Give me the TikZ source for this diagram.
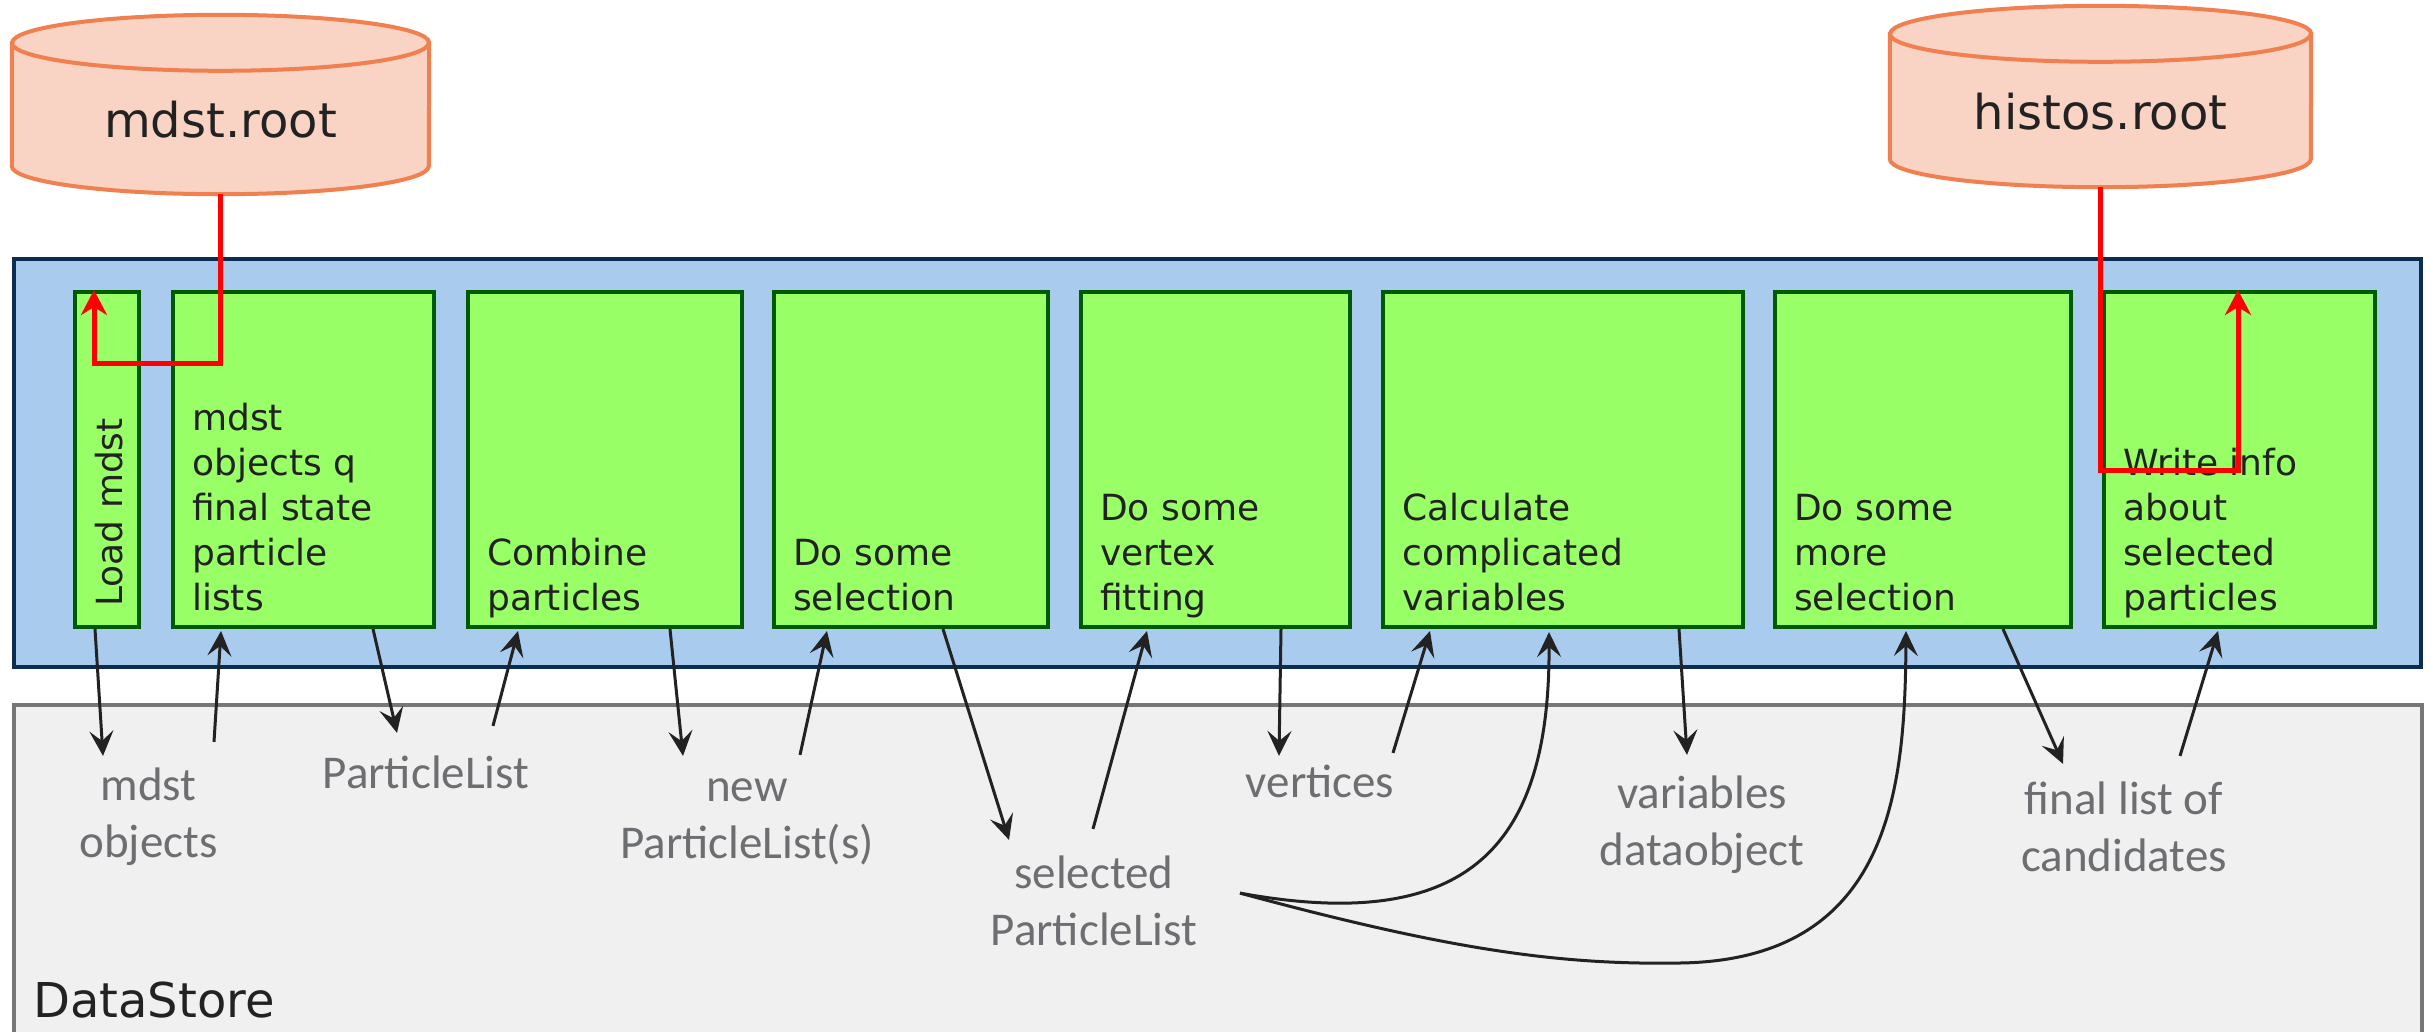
\documentclass[tikz,border=0pt]{standalone}
\usepackage{fontspec}
\setmainfont{DejaVu Sans}
\newfontfamily\carlito{Carlito}
\usetikzlibrary{arrows.meta,calc}
\definecolor{bluefill}{HTML}{A9CCEE}
\definecolor{blueline}{HTML}{0B2D52}
\definecolor{greenfill}{HTML}{99FF66}
\definecolor{greenline}{HTML}{005A00}
\definecolor{cylfill}{HTML}{F9D3C3}
\definecolor{cylline}{HTML}{F08050}
\definecolor{storefill}{HTML}{F0F0F0}
\definecolor{storeline}{HTML}{777777}
\definecolor{ink}{HTML}{222222}
\definecolor{labelgray}{HTML}{6D6E71}
\begin{document}
\begin{tikzpicture}[x=1pt,y=-1pt,
  module/.style={draw=greenline, fill=greenfill, line width=4pt, inner sep=0pt, minimum height=335pt, anchor=north west},
  modtext/.style={font=\fontsize{36}{45}\selectfont, text=ink, align=left, inner sep=0pt, anchor=south west},
  dlabel/.style={font=\carlito\fontsize{47}{57}\selectfont, text=labelgray, align=center, inner sep=0pt},
  conn/.style={draw=ink, line width=3pt, -{Stealth[length=25pt,width=24pt,inset=10pt]}},
  redconn/.style={draw=red, line width=5pt, -{Stealth[length=25pt,width=26pt,inset=8pt]}},
  cylbox/.style={draw=none, inner sep=0pt},
  cyltext/.style={font=\fontsize{48}{58}\selectfont, text=ink, inner sep=0pt, anchor=base},
]
\useasboundingbox (0,0) rectangle (2433,1031);
\fill[white] (0,0) rectangle (2433,1031);

% containers
\node[draw=storeline, fill=storefill, line width=4pt, inner sep=0pt, anchor=north west,
      minimum width=2408pt, minimum height=360pt] (datastore) at (12,703) {};
\node[font=\fontsize{48}{58}\selectfont, text=ink, anchor=base west, inner sep=0pt] (dstxt)
      at ($(datastore.north west)+(21,314)$) {DataStore};
\node[draw=blueline, fill=bluefill, line width=4pt, inner sep=0pt, anchor=north west,
      minimum width=2407pt, minimum height=408pt] (pipeline) at (12,257) {};

% modules
\node[module, minimum width=64pt]  (load) at (73,290) {};
\node[module, minimum width=261pt] (b2) at (171,290) {};
\node[module, minimum width=274pt] (b3) at (466,290) {};
\node[module, minimum width=274pt] (b4) at (772,290) {};
\node[module, minimum width=269pt] (b5) at (1079,290) {};
\node[module, minimum width=360pt] (b6) at (1381,290) {};
\node[module, minimum width=296pt] (b7) at (1773,290) {};
\node[module, minimum width=271pt] (write) at (2102,290) {};

\node[font=\fontsize{36}{45}\selectfont, text=ink, rotate=90, anchor=west, inner sep=0pt] (t1)
      at ($(load.south)+(2,-22)$) {Load mdst};
\node[modtext] (t2) at ($(b2.south west)+(21,-4.5)$) {\strut mdst\\\strut objects q\\\strut final state\\\strut particle\\\strut lists};
\node[modtext] (t3) at ($(b3.south west)+(21,-4.5)$) {\strut Combine\\\strut particles};
\node[modtext] (t4) at ($(b4.south west)+(21,-4.5)$) {\strut Do some\\\strut selection};
\node[modtext] (t5) at ($(b5.south west)+(21,-4.5)$) {\strut Do some\\\strut vertex\\\strut fitting};
\node[modtext] (t6) at ($(b6.south west)+(21,-4.5)$) {\strut Calculate\\\strut complicated\\\strut variables};
\node[modtext] (t7) at ($(b7.south west)+(21,-4.5)$) {\strut Do some\\\strut more\\\strut selection};
\node[modtext] (t8) at ($(write.south west)+(21,-4.5)$) {\strut Write info\\\strut about\\\strut selected\\\strut particles};

% data labels
\node[dlabel] (lab1) at (148.5,817.1) {\strut mdst\\\strut objects};
\node[dlabel] (lab2) at (426,776.6) {\strut ParticleList};
\node[dlabel] (lab3) at (747,818.1) {\strut new\\\strut ParticleList(s)};
\node[dlabel] (lab4) at (1094,905.1) {\strut selected\\\strut ParticleList};
\node[dlabel] (lab5) at (1320,785.6) {\strut vertices};
\node[dlabel] (lab6) at (1702,825.1) {\strut variables\\\strut dataobject};
\node[dlabel] (lab7) at (2124,831.1) {\strut final list of\\\strut candidates};

% connectors
\draw[conn] ($(load.south)+(-12,0)$) -- ($(lab1.north)+(-45.5,-4)$);
\draw[conn] ($(lab1.north)+(65.5,-18)$) -- ($(b2.south)+(-82.5,2)$);
\draw[conn] ($(b2.south)+(69.5,0)$) -- ($(lab2.north)+(-29,-15)$);
\draw[conn] ($(lab2.north)+(67,-22)$) -- ($(b3.south)+(-87,2)$);
\draw[conn] ($(b3.south)+(65,0)$) -- ($(lab3.north)+(-64,-5)$);
\draw[conn] ($(lab3.north)+(53,-6)$) -- ($(b4.south)+(-84,2)$);
\draw[conn] ($(b4.south)+(32,0)$) -- ($(lab4.north)+(-85,-8)$);
\draw[conn] ($(lab4.north)+(-1,-19)$) -- ($(b5.south)+(-68.5,2)$);
\draw[conn] ($(b5.south)+(65.5,0)$) -- ($(lab5.north)+(-41,-1)$);
\draw[conn] ($(lab5.north)+(73,-4)$) -- ($(b6.south)+(-133,2)$);
\draw[conn] ($(lab4.center)+(146,-12)$) .. controls (1470,935) and (1550,845) .. ($(b6.south)+(-14,3)$);
\draw[conn] ($(lab4.center)+(146,-12)$) .. controls (1450,950) and (1560,965) .. (1680,963)
            .. controls (1890,960) and (1905,790) .. ($(b7.south)+(-17,2)$);
\draw[conn] ($(b6.south)+(116,0)$) -- ($(lab6.north)+(-15,-13)$);
\draw[conn] ($(b7.south)+(80,0)$) -- ($(lab7.north)+(-61,-10)$);
\draw[conn] ($(lab7.north)+(56,-18)$) -- ($(write.south)+(-21.5,2)$);

% cylinders
\node[cylbox, minimum width=417pt, minimum height=179pt] (mdst) at (220.5,104.5) {};
\path[draw=cylline, fill=cylfill, line width=4pt]
  ($(mdst.north west)+(0,28)$) -- ($(mdst.south west)+(0,-28)$)
  arc[start angle=180,end angle=360,x radius=208.5pt,y radius=28pt]
  -- ($(mdst.north east)+(0,28)$)
  arc[start angle=0,end angle=180,x radius=208.5pt,y radius=28pt] -- cycle;
\draw[cylline, line width=4pt] ($(mdst.north west)+(0,28)$)
  arc[start angle=180,end angle=360,x radius=208.5pt,y radius=28pt];
\node[cyltext] (mdsttxt) at ($(mdst.center)+(0,32.5)$) {mdst.root};

\node[cylbox, minimum width=421pt, minimum height=181pt] (histos) at (2100.5,96.5) {};
\path[draw=cylline, fill=cylfill, line width=4pt]
  ($(histos.north west)+(0,28)$) -- ($(histos.south west)+(0,-28)$)
  arc[start angle=180,end angle=360,x radius=210.5pt,y radius=28pt]
  -- ($(histos.north east)+(0,28)$)
  arc[start angle=0,end angle=180,x radius=210.5pt,y radius=28pt] -- cycle;
\draw[cylline, line width=4pt] ($(histos.north west)+(0,28)$)
  arc[start angle=180,end angle=360,x radius=210.5pt,y radius=28pt];
\node[cyltext] (histostxt) at ($(histos.center)+(0,32.5)$) {histos.root};

% file connections
\coordinate (r1) at (94,363);
\draw[redconn] (mdst.south) |- (r1) -- (r1 |- load.north);
\coordinate (r2) at (2238,470);
\draw[redconn] (histos.south) |- (r2) -- (r2 |- write.north);
\end{tikzpicture}
\end{document}
